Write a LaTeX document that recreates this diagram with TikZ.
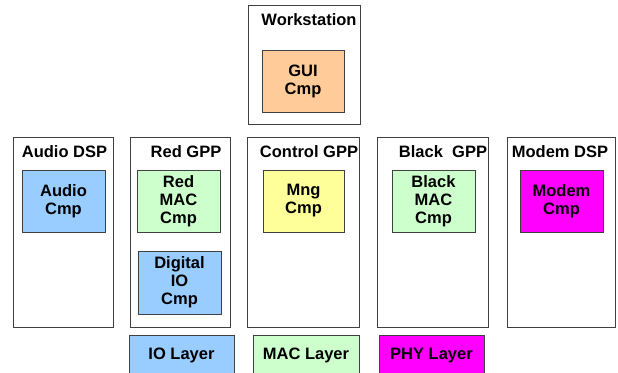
\documentclass[tikz,border=0pt]{standalone}
\usepackage{fontspec}
\setmainfont{Liberation Sans}
\definecolor{guiorange}{HTML}{FFCC99}
\definecolor{ioblue}{HTML}{99CCFF}
\definecolor{macgreen}{HTML}{CCFFCC}
\definecolor{mngyellow}{HTML}{FFFF99}
\definecolor{phymagenta}{HTML}{FF00FF}
\tikzset{
  host/.style={draw=black!75, line width=0.8pt},
  hostlabel/.style={font=\fontsize{16.5}{18}\selectfont\bfseries, inner sep=0pt},
  cmp/.style={draw=black!75, line width=0.8pt, minimum width=83pt, minimum height=62pt,
    align=center, inner sep=1pt, font=\fontsize{16.5}{18}\selectfont\bfseries},
  layer/.style={cmp, minimum height=41pt}
}
\begin{document}
\begin{tikzpicture}[x=1pt,y=-1pt]
\clip (0,0) rectangle (618,372);
\fill[white] (0,0) rectangle (618,372);
% processors
\draw[host] (248,5) rectangle (360,124);
\draw[host] (13,137) rectangle (113,327);
\draw[host] (130,137) rectangle (230,327);
\draw[host] (247,137) rectangle (359,327);
\draw[host] (377,137) rectangle (488,327);
\draw[host] (507,137) rectangle (615,327);
\node[hostlabel] (ws) at (309,20) {Workstation};
\node[hostlabel] (adsp) at (64.5,152) {Audio DSP};
\node[hostlabel] (rgpp) at (186,152) {Red GPP};
\node[hostlabel] (cgpp) at (309,152) {Control GPP};
\node[hostlabel] (bgpp) at (443,152) {Black\ \ GPP};
\node[hostlabel] (mdsp) at (560,152) {Modem DSP};
% components
\node[cmp, fill=guiorange, minimum width=82pt] (gui) at (303,81) {GUI\\Cmp};
\node[cmp, fill=ioblue] (audio) at (63.5,201) {Audio\\Cmp};
\node[cmp, fill=macgreen] (redmac) at (178.5,201) {Red\\MAC\\Cmp};
\node[cmp, fill=ioblue, minimum height=63pt] (dio) at (179.5,282.5) {Digital\\IO\\Cmp};
\node[cmp, fill=mngyellow, minimum width=81pt] (mng) at (303.5,201) {Mng\\Cmp};
\node[cmp, fill=macgreen] (blackmac) at (433.5,201) {Black\\MAC\\Cmp};
\node[cmp, fill=phymagenta] (modem) at (561.5,201) {Modem\\Cmp};
% layers
\node[layer, fill=ioblue, minimum width=105pt] (iolayer) at (181.5,355.5) {IO Layer};
\node[layer, fill=macgreen, minimum width=106pt] (maclayer) at (306,355.5) {MAC Layer};
\node[layer, fill=phymagenta, minimum width=105pt] (phylayer) at (431.5,355.5) {PHY Layer};
\end{tikzpicture}
\end{document}
